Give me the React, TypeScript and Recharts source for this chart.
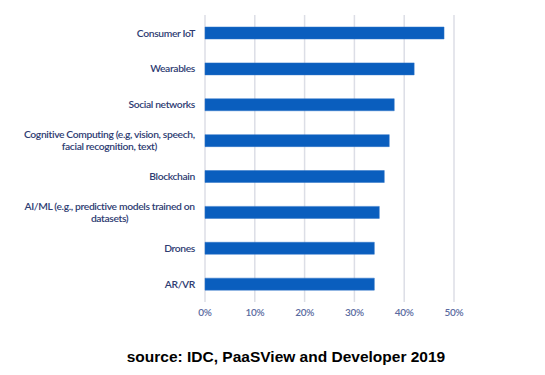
import React from "react";
import { BarChart, Bar, XAxis, YAxis, CartesianGrid } from "recharts";

const categories = [
  "Consumer IoT",
  "Wearables",
  "Social networks",
  "Cognitive Computing (e.g, vision, speech, facial recognition, text)",
  "Blockchain",
  "AI/ML (e.g., predictive models trained on datasets)",
  "Drones",
  "AR/VR",
];
const values = [0.48, 0.42, 0.38, 0.37, 0.36, 0.35, 0.34, 0.34];
const xTicks = [0, 0.1, 0.2, 0.3, 0.4, 0.5];
const sourceText = "source: IDC, PaaSView and Developer 2019";

const data = categories.map((name, i) => ({ name, value: values[i] }));

const LABEL_FONT_SIZE = 10.3;
const LABEL_SPACING = -0.35;
const LABEL_FAMILY = "Lato, 'Open Sans', sans-serif";

function wrap(text: string, maxChars: number): string[] {
  const words = text.split(" ");
  const lines: string[] = [];
  let cur = "";
  for (const w of words) {
    const next = cur ? cur + " " + w : w;
    if (next.length > maxChars && cur) {
      lines.push(cur);
      cur = w;
    } else {
      cur = next;
    }
  }
  if (cur) lines.push(cur);
  return lines;
}

let measureCtx: CanvasRenderingContext2D | null = null;
function measure(text: string): number {
  if (typeof document === "undefined") return text.length * 5;
  if (!measureCtx) {
    const c = document.createElement("canvas");
    measureCtx = c.getContext("2d");
  }
  if (!measureCtx) return text.length * 5;
  measureCtx.font = `600 ${LABEL_FONT_SIZE}px ${LABEL_FAMILY}`;
  return measureCtx.measureText(text).width + LABEL_SPACING * text.length;
}

const CatTick = (props: any) => {
  const { x, y, payload } = props;
  const lines = wrap(String(payload.value), 41);
  const lh = 12.6;
  const start = -((lines.length - 1) * lh) / 2;
  const multi = lines.length > 1;
  const maxW = multi ? Math.max(...lines.map(measure)) : 0;
  const ax = multi ? x - maxW / 2 : x;
  return (
    <text
      x={ax}
      y={y}
      textAnchor={multi ? "middle" : "end"}
      fill="#2E3C72"
      fontSize={LABEL_FONT_SIZE}
      letterSpacing={LABEL_SPACING}
      fontFamily={LABEL_FAMILY}
      fontWeight={600}
    >
      {lines.map((l, i) => (
        <tspan key={i} x={ax} y={y + start + i * lh} dy="0.35em">
          {l}
        </tspan>
      ))}
    </text>
  );
};

export default function App() {
  return (
    <div
      style={{
        position: "absolute",
        left: 0,
        top: 0,
        width: 545,
        height: 375,
        background: "#fff",
      }}
    >
      <BarChart
        layout="vertical"
        width={545}
        height={375}
        data={data}
        margin={{ top: 15, right: 91, bottom: 53, left: 0 }}
        barCategoryGap={0}
      >
        <CartesianGrid horizontal={false} stroke="#DCDEE6" strokeWidth={1.5} />
        <XAxis
          type="number"
          domain={[0, 0.5]}
          ticks={xTicks}
          tickFormatter={(v: number) => `${Math.round(v * 100)}%`}
          axisLine={false}
          tickLine={false}
          height={20}
          tick={{ fill: "#5A6AA0", fontSize: 10, fontFamily: "Lato, sans-serif", fontWeight: 600, letterSpacing: -0.3 }}
          tickMargin={1}
        />
        <YAxis
          type="category"
          dataKey="name"
          width={205}
          axisLine={false}
          tickLine={false}
          tick={<CatTick />}
          tickMargin={4}
          interval={0}
        />
        <Bar
          dataKey="value"
          fill="#0A5EBE"
          stroke="#2F74C8"
          strokeWidth={0.5}
          barSize={12}
          isAnimationActive={false}
        />
      </BarChart>
      <div
        style={{
          position: "absolute",
          left: 0,
          width: 572,
          top: 348,
          textAlign: "center",
          fontFamily: "'Liberation Sans', Arial, sans-serif",
          fontWeight: 700,
          fontSize: 15.5,
          color: "#000",
          whiteSpace: "nowrap",
        }}
      >
        {sourceText}
      </div>
    </div>
  );
}
